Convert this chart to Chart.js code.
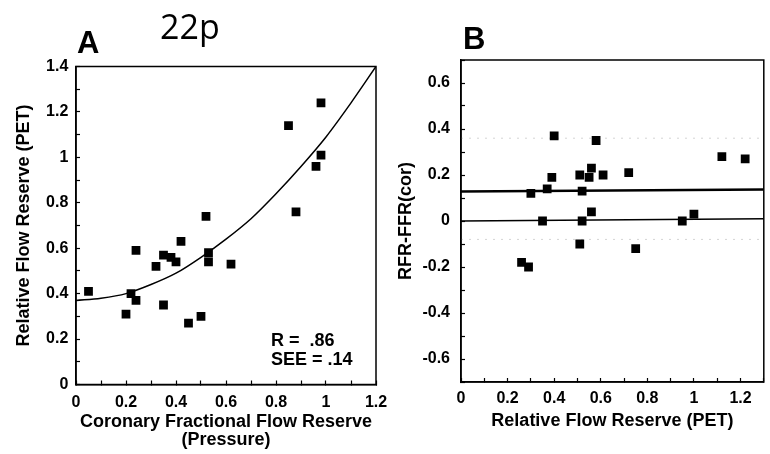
<!DOCTYPE html>
<html>
<head>
<meta charset="utf-8">
<script src="https://cdn.jsdelivr.net/npm/chart.js@4.4.1/dist/chart.umd.min.js"></script>
<style>
  html, body { margin: 0; padding: 0; background: #fff; }
  #wrap { position: relative; width: 770px; height: 454px; overflow: hidden; }
  #chartA { position: absolute; left: 0; top: 0; }
  #chartB { position: absolute; left: 385px; top: 0; }
  #note { position: absolute; left: 160px; top: 9px; font: 34px/34px 'Open Sans', sans-serif; color: #000; }
</style>
</head>
<body>
<div id="wrap">
  <canvas id="chartA" width="400" height="454"></canvas>
  <canvas id="chartB" width="385" height="454"></canvas>
  <div id="note">22p</div>
</div>
<script>
// Panel A: pressure-derived FFR vs PET relative flow reserve
const ffrPressure = [0.05, 0.20, 0.22, 0.24, 0.24, 0.32, 0.35, 0.35, 0.38, 0.40, 0.42,
                     0.45, 0.50, 0.52, 0.53, 0.53, 0.62, 0.85, 0.88, 0.96, 0.98, 0.98];
const rfrPet = [0.41, 0.31, 0.40, 0.59, 0.37, 0.52, 0.57, 0.35, 0.56, 0.54, 0.63,
                0.27, 0.30, 0.74, 0.58, 0.54, 0.53, 1.14, 0.76, 0.96, 1.24, 1.01];
// regression curve
const fitX = [0, 0.1, 0.2, 0.3, 0.4, 0.5, 0.6, 0.7, 0.8, 0.9, 1.0, 1.1, 1.2];
const fitY = [0.37, 0.38, 0.40, 0.44, 0.49, 0.56, 0.64, 0.73, 0.84, 0.96, 1.09, 1.24, 1.40];

// Panel B: difference vs RFR(PET)
const rfrB = [0.26, 0.29, 0.30, 0.35, 0.37, 0.39, 0.40, 0.51, 0.51, 0.52, 0.52,
              0.55, 0.56, 0.56, 0.58, 0.61, 0.72, 0.75, 0.95, 1.00, 1.12, 1.22];
const diffB = [-0.18, -0.20, 0.12, 0.00, 0.14, 0.19, 0.37, -0.10, 0.20, 0.13, 0.00,
               0.19, 0.23, 0.04, 0.35, 0.20, 0.21, -0.12, 0.00, 0.03, 0.28, 0.27];
const lineX = [0, 1.3];
const meanLine = [0.128, 0.137];
const zeroLine = [0.0, 0.01];
const upperLimit = [0.36, 0.36];
const lowerLimit = [-0.08, -0.08];

// tick labels
const xTicksA = ['0', '0.2', '0.4', '0.6', '0.8', '1', '1.2'];
const yTicksA = ['0', '0.2', '0.4', '0.6', '0.8', '1', '1.2', '1.4'];
const xTicksB = ['0', '0.2', '0.4', '0.6', '0.8', '1', '1.2'];
const yTicksB = ['-0.6', '-0.4', '-0.2', '0', '0.2', '0.4', '0.6'];

const FONT = "'Liberation Sans', Arial, sans-serif";
Chart.defaults.font.family = FONT;
Chart.defaults.color = '#000';

function pairs(xs, ys) {
    return xs.map((x, i) => ({ x: x, y: ys[i] }));
}

function labelFrom(list) {
    return function (v) {
        const s = String(Math.round(v * 10) / 10);
        return list.indexOf(s) >= 0 ? s : '';
    };
}

function makeAxis(min, max, labels, title, titlePad, tickPad, size, horizontal) {
    return {
        type: 'linear',
        min: min,
        max: max,
        ticks: {
            stepSize: 0.1,
            autoSkip: false,
            maxRotation: 0,
            padding: tickPad,
            font: { size: 16, weight: 'bold' },
            callback: labelFrom(labels)
        },
        grid: {
            drawOnChartArea: false,
            drawTicks: true,
            tickLength: -4,
            tickColor: '#000',
            tickWidth: 1.2
        },
        border: { display: true, color: '#000', width: 1.5 },
        title: {
            display: true,
            text: title,
            font: { size: 18, weight: 'bold', lineHeight: 0.97 },
            padding: horizontal ? { top: 0, bottom: titlePad } : { top: titlePad, bottom: 0 }
        },
        afterFit: horizontal
            ? (s) => { s.height = size; s.paddingLeft = 0; s.paddingRight = 0; }
            : (s) => { s.width = size; s.paddingTop = 0; s.paddingBottom = 0; }
    };
}

const framePlugin = {
    id: 'frame',
    afterDraw: (chart, args, opts) => {
        const ctx = chart.ctx;
        const a = chart.chartArea;
        ctx.save();
        ctx.strokeStyle = '#000';
        ctx.lineWidth = 1.5;
        ctx.strokeRect(a.left, a.top, a.right - a.left, a.bottom - a.top);
        ctx.fillStyle = '#000';
        ctx.textAlign = 'left';
        ctx.textBaseline = 'alphabetic';
        ctx.font = 'bold 31px ' + FONT;
        ctx.fillText(opts.letter, a.left + opts.letterDx, a.top - opts.letterDy);
        if (opts.notes) {
            ctx.font = 'bold 18px ' + FONT;
            opts.notes.forEach((n) => {
                ctx.fillText(n.text, chart.scales.x.getPixelForValue(n.x), chart.scales.y.getPixelForValue(n.y));
            });
        }
        ctx.restore();
    }
};

const chartA = new Chart(document.getElementById('chartA'), {
    type: 'scatter',
    data: {
        datasets: [
            {
                data: pairs(ffrPressure, rfrPet),
                pointStyle: 'rect',
                pointRadius: 6.2,
                backgroundColor: '#000',
                borderWidth: 0
            },
            {
                data: pairs(fitX, fitY),
                showLine: true,
                cubicInterpolationMode: 'monotone',
                borderColor: '#000',
                borderWidth: 1.5,
                pointRadius: 0
            }
        ]
    },
    options: {
        animation: false,
        responsive: false,
        layout: { padding: { left: 0, top: 66.5, right: 24, bottom: 0 } },
        plugins: {
            legend: { display: false },
            tooltip: { enabled: false },
            frame: {
                letter: 'A', letterDx: 1, letterDy: 14,
                notes: [
                    { text: 'R =  .86', x: 0.78, y: 0.168 },
                    { text: 'SEE = .14', x: 0.78, y: 0.084 }
                ]
            }
        },
        scales: {
            x: makeAxis(0, 1.2, xTicksA, ['Coronary Fractional Flow Reserve', '(Pressure)'], 5.3, 12.5, 69.5, true),
            y: makeAxis(0, 1.4, yTicksA, 'Relative Flow Reserve (PET)', 15.3, 11.7, 76, false)
        }
    },
    plugins: [framePlugin]
});

const chartB = new Chart(document.getElementById('chartB'), {
    type: 'scatter',
    data: {
        datasets: [
            {
                data: pairs(rfrB, diffB),
                pointStyle: 'rect',
                pointRadius: 6.2,
                backgroundColor: '#000',
                borderWidth: 0
            },
            {
                data: pairs(lineX, meanLine),
                showLine: true,
                borderColor: '#000',
                borderWidth: 2.5,
                pointRadius: 0
            },
            {
                data: pairs(lineX, zeroLine),
                showLine: true,
                borderColor: '#000',
                borderWidth: 1.5,
                pointRadius: 0
            },
            {
                data: pairs(lineX, upperLimit),
                showLine: true,
                borderColor: '#d4d4d4',
                borderDash: [2, 6],
                borderWidth: 1,
                pointRadius: 0
            },
            {
                data: pairs(lineX, lowerLimit),
                showLine: true,
                borderColor: '#d4d4d4',
                borderDash: [2, 6],
                borderWidth: 1,
                pointRadius: 0
            }
        ]
    },
    options: {
        animation: false,
        responsive: false,
        layout: { padding: { left: 0, top: 60, right: 5, bottom: 0 } },
        plugins: {
            legend: { display: false },
            tooltip: { enabled: false },
            frame: { letter: 'B', letterDx: 2, letterDy: 11 }
        },
        scales: {
            x: makeAxis(0, 1.3, xTicksB, 'Relative Flow Reserve (PET)', 24.3, 11, 72, true),
            y: makeAxis(-0.7, 0.7, yTicksB, 'RFR-FFR(cor)', 12, 15, 76, false)
        }
    },
    plugins: [framePlugin]
});
</script>
</body>
</html>
